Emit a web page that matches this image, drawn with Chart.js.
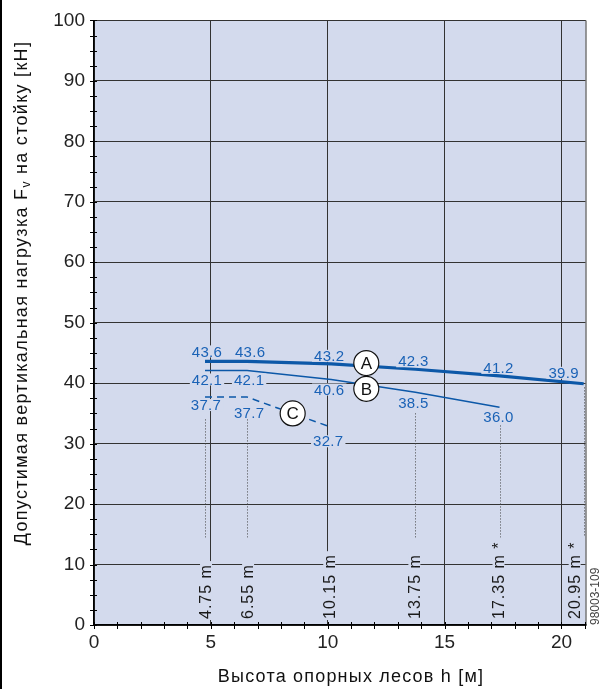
<!DOCTYPE html>
<html>
<head>
<meta charset="utf-8">
<script src="https://cdn.jsdelivr.net/npm/chart.js@4.4.0/dist/chart.umd.min.js"></script>
<style>
    html, body { margin: 0; padding: 0; background: #fff; }
    #wrap { width: 601px; height: 689px; position: relative; }
</style>
</head>
<body>
<div id="wrap"><canvas id="loadChart"></canvas></div>
<script>
// data
const heights = [4.75, 6.55, 10.15, 13.75, 17.35, 20.95];
const loadA = [43.6, 43.6, 43.2, 42.3, 41.2, 39.9];
const loadB = [42.1, 42.1, 40.6, 38.5, 36.0];
const loadC = [37.7, 37.7, 32.7];
const heightLabels = ['4.75 m', '6.55 m', '10.15 m', '13.75 m', '17.35 m *', '20.95 m *'];
const guideTop = [34, 34, null, 35, 33, 39.3];
const guideBottom = 14.5;
const seriesNames = ['A', 'B', 'C'];
const badgeX = [11.65, 11.65, 8.5];
const xTicks = [0, 5, 10, 15, 20];
const yTicks = [0, 10, 20, 30, 40, 50, 60, 70, 80, 90, 100];

const FONT = '"Liberation Sans", Arial, Helvetica, sans-serif';
const plotBg = '#d3daed';
const lineBlue = '#0c58a8';
const textBlue = '#1a62b6';

function points(ys) {
    return ys.map((y, i) => ({x: heights[i], y: y}));
}

// label offsets in px, relative to each point
const labelShift = [
    [[2, -10], [3, -10], [-2, -8], [-2, -8], [-1, -8], [-20, -11]],
    [[2, 9], [2, 9], [-2, 10], [-2, 11], [-1, 10]],
    [[1, 8], [2, 16], [-3, 14]]
];
const bottomShift = [1, 1, -2, -1, -1, -9];
const badgeShift = [-3, 4, 0];

function interp(ys, x) {
    for (let i = 0; i < ys.length - 1; i++) {
        if (x >= heights[i] && x <= heights[i + 1]) {
            const t = (x - heights[i]) / (heights[i + 1] - heights[i]);
            return ys[i] + t * (ys[i + 1] - ys[i]);
        }
    }
    return ys[ys.length - 1];
}

const decor = {
    id: 'decor',
    beforeDraw(chart) {
        const {ctx, chartArea: a} = chart;
        ctx.save();
        ctx.fillStyle = '#fff';
        ctx.fillRect(0, 0, chart.width, chart.height);
        ctx.fillStyle = plotBg;
        ctx.fillRect(a.left, a.top, a.right - a.left, a.bottom - a.top);
        ctx.strokeStyle = '#000';
        ctx.lineWidth = 2;
        ctx.beginPath();
        ctx.moveTo(1, 0);
        ctx.lineTo(1, chart.height);
        ctx.stroke();
        ctx.restore();
    },
    afterDatasetsDraw(chart) {
        const {ctx, chartArea: a} = chart;
        const xs = chart.scales.x, ys = chart.scales.y;
        ctx.save();

        // dotted guides
        ctx.strokeStyle = '#444';
        ctx.lineWidth = 1;
        ctx.setLineDash([1, 2]);
        heights.forEach((h, i) => {
            if (guideTop[i] === null) return;
            const px = Math.round(xs.getPixelForValue(h)) + 0.5;
            ctx.beginPath();
            ctx.moveTo(px, ys.getPixelForValue(guideTop[i]));
            ctx.lineTo(px, ys.getPixelForValue(guideBottom));
            ctx.stroke();
        });
        ctx.setLineDash([]);

        // rotated height labels at the bottom
        ctx.font = '16px ' + FONT;
        ctx.letterSpacing = '1px';
        heights.forEach((h, i) => {
            const px = xs.getPixelForValue(h) + bottomShift[i];
            const py = a.bottom - 6;
            const w = ctx.measureText(heightLabels[i]).width;
            ctx.fillStyle = plotBg;
            ctx.fillRect(px - 6, py - w - 3, 12, w + 4);
            ctx.save();
            ctx.translate(px, py);
            ctx.rotate(-Math.PI / 2);
            ctx.fillStyle = '#1a1a1a';
            ctx.textAlign = 'left';
            ctx.textBaseline = 'middle';
            ctx.fillText(heightLabels[i], 0, 1);
            ctx.restore();
        });
        ctx.letterSpacing = '0px';

        // value labels
        ctx.font = '15px ' + FONT;
        ctx.letterSpacing = '0.3px';
        ctx.textAlign = 'center';
        ctx.textBaseline = 'middle';
        [loadA, loadB, loadC].forEach((vals, s) => {
            vals.forEach((v, i) => {
                const px = xs.getPixelForValue(heights[i]) + labelShift[s][i][0];
                const py = ys.getPixelForValue(v) + labelShift[s][i][1];
                const txt = v.toFixed(1);
                const w = ctx.measureText(txt).width;
                ctx.fillStyle = plotBg;
                ctx.fillRect(px - w / 2 - 2, py - 6, w + 4, 12);
                ctx.fillStyle = textBlue;
                ctx.fillText(txt, px, py + 1);
            });
        });
        ctx.letterSpacing = '0px';

        // circled series names
        [loadA, loadB, loadC].forEach((vals, s) => {
            const px = xs.getPixelForValue(badgeX[s]);
            const py = ys.getPixelForValue(interp(vals, badgeX[s])) + badgeShift[s];
            ctx.beginPath();
            ctx.arc(px, py, 12.5, 0, Math.PI * 2);
            ctx.fillStyle = '#fff';
            ctx.fill();
            ctx.strokeStyle = '#111';
            ctx.lineWidth = 1.2;
            ctx.stroke();
            ctx.fillStyle = '#111';
            ctx.font = '17px ' + FONT;
            ctx.fillText(seriesNames[s], px, py + 1);
        });
        ctx.restore();
    },
    afterDraw(chart) {
        const {ctx, chartArea: a} = chart;
        const xs = chart.scales.x, ys = chart.scales.y;
        ctx.save();

        // right edge of plot
        ctx.strokeStyle = '#777';
        ctx.lineWidth = 1.5;
        ctx.beginPath();
        ctx.moveTo(a.right, a.top);
        ctx.lineTo(a.right, a.bottom);
        ctx.stroke();

        // minor ticks crossing the axes
        ctx.strokeStyle = '#000';
        ctx.lineWidth = 1;
        ctx.beginPath();
        for (let v = 0; v <= 100; v += 2.5) {
            const py = Math.round(ys.getPixelForValue(v)) + 0.5;
            ctx.moveTo(a.left - 4, py);
            ctx.lineTo(a.left + 3, py);
        }
        for (let v = 0; v <= 21; v += 1) {
            const px = Math.round(xs.getPixelForValue(v)) + 0.5;
            ctx.moveTo(px, a.bottom - 3);
            ctx.lineTo(px, a.bottom + 4);
        }
        ctx.stroke();

        // axis titles
        ctx.fillStyle = '#111';
        ctx.textBaseline = 'middle';
        ctx.textAlign = 'center';
        ctx.font = '18px ' + FONT;
        ctx.letterSpacing = '1.2px';
        ctx.fillText('Высота опорных лесов h [м]', 351, 677);

        const p1 = 'Допустимая вертикальная нагрузка F';
        const sub = 'v';
        const p2 = ' на стойку [кН]';
        ctx.save();
        ctx.translate(22, 293);
        ctx.rotate(-Math.PI / 2);
        ctx.textAlign = 'left';
        ctx.letterSpacing = '1.3px';
        ctx.font = '18px ' + FONT;
        const w1 = ctx.measureText(p1).width;
        const w3 = ctx.measureText(p2).width;
        ctx.font = '12px ' + FONT;
        const w2 = ctx.measureText(sub).width;
        let x0 = -(w1 + w2 + w3) / 2;
        ctx.font = '18px ' + FONT;
        ctx.fillText(p1, x0, 0);
        ctx.font = '12px ' + FONT;
        ctx.fillText(sub, x0 + w1, 5);
        ctx.font = '18px ' + FONT;
        ctx.fillText(p2, x0 + w1 + w2, 0);
        ctx.restore();
        ctx.letterSpacing = '0px';

        // drawing number
        ctx.save();
        ctx.translate(596, a.bottom);
        ctx.rotate(-Math.PI / 2);
        ctx.textAlign = 'left';
        ctx.fillStyle = '#444';
        ctx.font = '12px ' + FONT;
        ctx.fillText('98003-109', 0, 0);
        ctx.restore();

        ctx.restore();
    }
};

const ctx = document.getElementById('loadChart').getContext('2d');
const chart = new Chart(ctx, {
    type: 'scatter',
    data: {
        datasets: [
            {
                label: 'A',
                data: points(loadA),
                showLine: true,
                borderColor: lineBlue,
                borderWidth: 3.2,
                pointRadius: 0,
            },
            {
                label: 'B',
                data: points(loadB),
                showLine: true,
                borderColor: lineBlue,
                borderWidth: 1.5,
                pointRadius: 0,
            },
            {
                label: 'C',
                data: points(loadC),
                showLine: true,
                borderColor: lineBlue,
                borderWidth: 1.5,
                borderDash: [7, 5],
                pointRadius: 0,
            }
        ]
    },
    options: {
        responsive: true,
        maintainAspectRatio: false,
        animation: false,
        layout: {
            padding: {left: 0, right: 15, top: 18, bottom: 0}
        },
        plugins: {
            legend: {display: false},
            tooltip: {enabled: false}
        },
        scales: {
            x: {
                type: 'linear',
                min: 0,
                max: 21.05,
                afterBuildTicks: (s) => { s.ticks = xTicks.map(v => ({value: v})); },
                afterFit: (s) => { s.height = 64; },
                ticks: {
                    color: '#222',
                    font: {family: FONT, size: 19},
                    padding: 6,
                    maxRotation: 0,
                },
                grid: {
                    color: '#333',
                    lineWidth: 1,
                    drawTicks: false,
                },
                border: {color: '#000', width: 1.5}
            },
            y: {
                min: 0,
                max: 100,
                afterBuildTicks: (s) => { s.ticks = yTicks.map(v => ({value: v})); },
                afterFit: (s) => { s.width = 94; },
                ticks: {
                    color: '#222',
                    font: {family: FONT, size: 19},
                    padding: 9,
                },
                grid: {
                    color: '#333',
                    lineWidth: 1,
                    drawTicks: false,
                },
                border: {color: '#000', width: 1.5}
            }
        }
    },
    plugins: [decor]
});
</script>
</body>
</html>
